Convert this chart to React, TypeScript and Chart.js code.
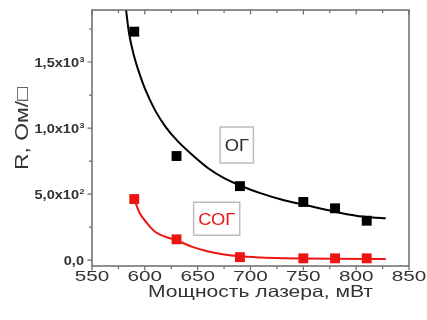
import React, { useEffect, useRef } from "react";
import { Chart, registerables } from "chart.js";

Chart.register(...registerables);

// ---- data ----
const xPower = [590, 630, 690, 750, 780, 810];
const rOG = [1730, 788, 560, 440, 392, 298];
const rSOG = [462, 157, 22, 13, 13, 13];

const fitOGx = [582, 585, 590, 595, 600, 610, 620, 630, 645, 660, 675, 690, 710, 730, 750, 775, 800, 815, 828];
const fitOGy = [1910, 1720, 1540, 1410, 1300, 1130, 1005, 910, 795, 695, 620, 565, 505, 457, 420, 375, 336, 323, 316];

const fitSOGx = [590, 595, 602, 610, 620, 630, 645, 660, 675, 690, 710, 730, 750, 780, 810, 828];
const fitSOGy = [462, 358, 280, 212, 175, 150, 100, 65, 42, 28, 19, 14, 11, 9, 8, 8];

const xTickValues = [550, 600, 650, 700, 750, 800, 850];
const yTickValues = [0, 500, 1000, 1500];
const yTickMantissa = ["0,0", "5,0x10", "1,0x10", "1,5x10"];
const yTickExponent = ["", "2", "3", "3"];

const xTitle = "Мощность лазера, мВт";
const yTitle = "R, Ом/□";
const labelOG = "ОГ";
const labelSOG = "СОГ";
const labelOGPos = [687, 871];
const labelSOGPos = [668, 313];

const FONT = '"Liberation Sans", Arial, sans-serif';
const RED = "#ee1414";

function pts(xs: number[], ys: number[]) {
  return xs.map((x, i) => ({ x, y: ys[i] }));
}

function stretched(ctx: CanvasRenderingContext2D, text: string, x: number, y: number, sx: number, align: CanvasTextAlign) {
  ctx.save();
  ctx.translate(x, y);
  ctx.scale(sx, 1);
  ctx.textAlign = align;
  ctx.fillText(text, 0, 0);
  ctx.restore();
}

const decor = {
  id: "decor",
  afterDraw(chart: any) {
    const ctx: CanvasRenderingContext2D = chart.ctx;
    const { left, right, top, bottom } = chart.chartArea;
    const xs = chart.scales.x;
    const ys = chart.scales.y;
    ctx.save();

    // frame
    ctx.strokeStyle = "#6a6a6a";
    ctx.lineWidth = 1.5;
    ctx.strokeRect(left, top, right - left, bottom - top);

    // x ticks (bottom outward, top inward)
    const xMaj = xTickValues;
    const xMin: number[] = [];
    for (let i = 0; i < xMaj.length - 1; i++) xMin.push((xMaj[i] + xMaj[i + 1]) / 2);
    ctx.lineWidth = 1.2;
    ctx.beginPath();
    xMaj.forEach((v) => {
      const p = xs.getPixelForValue(v);
      ctx.moveTo(p, bottom); ctx.lineTo(p, bottom + 4.5);
      ctx.moveTo(p, top); ctx.lineTo(p, top + 4.5);
    });
    xMin.forEach((v) => {
      const p = xs.getPixelForValue(v);
      ctx.moveTo(p, bottom); ctx.lineTo(p, bottom + 3);
      ctx.moveTo(p, top); ctx.lineTo(p, top + 3);
    });
    // y ticks (left outward)
    const yMin: number[] = [];
    for (let i = 0; i < yTickValues.length; i++) yMin.push(yTickValues[i] + 250);
    yTickValues.forEach((v) => {
      const p = ys.getPixelForValue(v);
      ctx.moveTo(left, p); ctx.lineTo(left - 4.5, p);
    });
    yMin.forEach((v) => {
      const p = ys.getPixelForValue(v);
      ctx.moveTo(left, p); ctx.lineTo(left - 3, p);
    });
    ctx.stroke();

    // x tick labels
    ctx.fillStyle = "#333";
    ctx.textBaseline = "alphabetic";
    ctx.font = `15px ${FONT}`;
    xTickValues.forEach((v) => {
      stretched(ctx, String(v), xs.getPixelForValue(v), 281, 1.38, "center");
    });

    // y tick labels with superscripts
    const sxY = 1.12;
    yTickValues.forEach((v, i) => {
      const p = ys.getPixelForValue(v);
      ctx.font = `bold 13px ${FONT}`;
      const wm = ctx.measureText(yTickMantissa[i]).width * sxY;
      ctx.font = `bold 8px ${FONT}`;
      const we = yTickExponent[i] ? ctx.measureText(yTickExponent[i]).width * sxY : 0;
      const x0 = 84 - wm - we;
      ctx.font = `bold 13px ${FONT}`;
      stretched(ctx, yTickMantissa[i], x0, p + 4.6, sxY, "left");
      if (yTickExponent[i]) {
        ctx.font = `bold 8px ${FONT}`;
        stretched(ctx, yTickExponent[i], x0 + wm + 0.5, p - 0.5, sxY, "left");
      }
    });

    // x title
    ctx.font = `16.5px ${FONT}`;
    const wx = ctx.measureText(xTitle).width;
    stretched(ctx, xTitle, 260.5, 297, 225 / wx, "center");

    // y title
    ctx.font = `18px ${FONT}`;
    const wy = ctx.measureText(yTitle).width;
    ctx.save();
    ctx.translate(28, 128.5);
    ctx.rotate(-Math.PI / 2);
    stretched(ctx, yTitle, 0, 0, 83 / wy, "center");
    ctx.restore();

    // labelled boxes
    const box = (text: string, pos: number[], color: string, h: number) => {
      const cx = xs.getPixelForValue(pos[0]);
      const cy = ys.getPixelForValue(pos[1]);
      ctx.font = `17px ${FONT}`;
      const w = ctx.measureText(text).width * 1.08;
      const bw = w + 9;
      ctx.fillStyle = "#fff";
      ctx.fillRect(cx - bw / 2, cy - h / 2, bw, h);
      ctx.strokeStyle = "#bdbdbd";
      ctx.lineWidth = 1.5;
      ctx.strokeRect(cx - bw / 2, cy - h / 2, bw, h);
      ctx.fillStyle = color;
      ctx.textBaseline = "alphabetic";
      stretched(ctx, text, cx, cy + 6.2, 1.08, "center");
    };
    box(labelOG, labelOGPos, "#2a2a2a", 36);
    box(labelSOG, labelSOGPos, RED, 33);

    ctx.restore();
  },
};

export default function App() {
  const ref = useRef<HTMLCanvasElement>(null);
  useEffect(() => {
    if (!ref.current) return;
    const chart = new Chart(ref.current, {
      type: "line",
      data: {
        datasets: [
          {
            label: "ОГ",
            data: pts(xPower, rOG),
            showLine: false,
            pointStyle: "rect",
            pointRadius: 7,
            backgroundColor: "#000",
            borderColor: "#000",
            borderWidth: 0,
          },
          {
            label: "СОГ",
            data: pts(xPower, rSOG),
            showLine: false,
            pointStyle: "rect",
            pointRadius: 7,
            backgroundColor: RED,
            borderColor: RED,
            borderWidth: 0,
          },
          {
            label: "fit ОГ",
            data: pts(fitOGx, fitOGy),
            borderColor: "#000",
            borderWidth: 2,
            pointRadius: 0,
            cubicInterpolationMode: "monotone",
            clip: 0,
          },
          {
            label: "fit СОГ",
            data: pts(fitSOGx, fitSOGy),
            borderColor: RED,
            borderWidth: 2,
            pointRadius: 0,
            cubicInterpolationMode: "monotone",
            clip: 0,
          },
        ],
      } as any,
      options: {
        animation: false,
        responsive: false,
        devicePixelRatio: 1,
        layout: { padding: { left: 0, right: 18, top: 10, bottom: 0 } },
        plugins: { legend: { display: false }, tooltip: { enabled: false } },
        scales: {
          x: {
            type: "linear",
            min: 550,
            max: 850,
            ticks: { display: false, stepSize: 50 },
            grid: { display: false },
            border: { display: false },
            afterFit: (s: any) => { s.height = 54; },
          },
          y: {
            type: "linear",
            min: -45,
            max: 1894,
            ticks: { display: false },
            grid: { display: false },
            border: { display: false },
            afterBuildTicks: (s: any) => { s.ticks = yTickValues.map((v) => ({ value: v })); },
            afterFit: (s: any) => { s.width = 92; },
          },
        },
      } as any,
      plugins: [decor],
    });
    return () => chart.destroy();
  }, []);
  return (
    <canvas
      ref={ref}
      width={427}
      height={320}
      style={{ position: "absolute", left: 0, top: 0, width: 427, height: 320, display: "block" }}
    />
  );
}
